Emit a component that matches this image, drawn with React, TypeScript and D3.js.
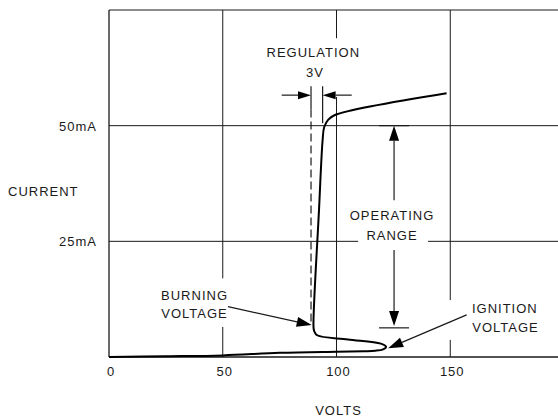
import { useEffect, useRef } from "react";
import * as d3 from "d3";

// volts / milliamps
const xTicks = [0, 50, 100, 150];
const yTicks = [25, 50];

// tube characteristic: along the baseline, round the ignition tip, back to the burning corner, then up
const curveVolts = [0, 25, 50, 75, 100, 112, 117, 120.5, 121.8, 119.5, 105, 91.5, 90.2, 89.9, 92.3, 93.9, 94.6, 96.4, 99.3, 148.4];
const curveMa = [0, 0.15, 0.35, 0.9, 1.15, 1.25, 1.35, 1.65, 2.2, 2.9, 3.8, 4.7, 5.6, 6.4, 31.7, 46.9, 49.7, 51.3, 52.3, 57.0];

// grid lines with the gaps the draughtsman left round the lettering
const vGridVolts = [0, 50, 100, 150];
const vGridSegs: [number, number][][] = [
  [[0, 75]],
  [[0, 6.5], [17, 75]],
  [[0, 56.2], [68.9, 75]],
  [[0, 3.7], [12.3, 75]],
];
const hGridMa = [0, 25, 50, 75];
const hGridSegs: [number, number][][] = [
  [[0, 200]],
  [[0, 109.5], [140.2, 200]],
  [[0, 200]],
  [[0, 200]],
];

// annotations (data coordinates)
const labels = [
  { text: "REGULATION", v: 89.8, i: 65.9, anchor: "middle" },
  { text: "3V", v: 90.5, i: 61.6, anchor: "middle" },
  { text: "OPERATING", v: 124.4, i: 30.7, anchor: "middle" },
  { text: "RANGE", v: 124.4, i: 26.3, anchor: "middle" },
  { text: "BURNING", v: 37.6, i: 13.4, anchor: "middle" },
  { text: "VOLTAGE", v: 37.6, i: 9.5, anchor: "middle" },
  { text: "IGNITION", v: 174, i: 10.6, anchor: "middle" },
  { text: "VOLTAGE", v: 174.3, i: 6.3, anchor: "middle" },
];
// [fromV, fromI, tipV, tipI]
const arrows = [
  [75.9, 56.6, 88.8, 56.6],
  [106.7, 56.6, 93.9, 56.6],
  [125.3, 33.9, 125.3, 50],
  [125.3, 23.1, 125.3, 6.7],
  [52.3, 10.9, 89.1, 6.9],
  [157.2, 9.1, 122.7, 1.9],
];
const rangeBars = [50, 6.3]; // mA, at the operating range arrows
const rangeVolts = 125.3;
const dashedVolts = 88.8;
const dashedMa: [number, number] = [7, 53.5];
const regTicks = [
  { v: 88.8, from: 53.5, to: 58.5 },
  { v: 93.9, from: 50.5, to: 58.5 },
];

const W = 558;
const H = 419;
const FONT = "'Liberation Sans', Arial, sans-serif";
const INK = "#1a1a1a";

export default function App() {
  const svgRef = useRef<SVGSVGElement | null>(null);

  useEffect(() => {
    const svg = d3.select(svgRef.current);
    svg.selectAll("*").remove();

    const x = d3.scaleLinear().domain([0, 200]).range([109, 564]);
    const y = d3.scaleLinear().domain([0, 75]).range([357, 10]);

    svg.append("rect").attr("width", W).attr("height", H).attr("fill", "#fff");

    const g = svg.append("g");

    // grid
    vGridVolts.forEach((v, k) => {
      vGridSegs[k].forEach(([a, b]) => {
        g.append("line")
          .attr("x1", x(v)).attr("x2", x(v))
          .attr("y1", y(a)).attr("y2", y(b))
          .attr("stroke", INK).attr("stroke-width", v === 0 ? 1.3 : 1);
      });
    });
    hGridMa.forEach((m, k) => {
      hGridSegs[k].forEach(([a, b]) => {
        g.append("line")
          .attr("x1", x(a)).attr("x2", x(b))
          .attr("y1", y(m)).attr("y2", y(m))
          .attr("stroke", INK).attr("stroke-width", m === 0 ? 1.6 : 1);
      });
    });

    const txt = (s: string, px: number, py: number, anchor: string) =>
      g.append("text")
        .attr("x", px).attr("y", py + 4.6)
        .attr("text-anchor", anchor)
        .attr("font-family", FONT).attr("font-size", 13)
        .attr("letter-spacing", 1)
        .attr("fill", INK)
        .text(s);

    // axis labels
    xTicks.forEach((v) => txt(String(v), x(v) + 2, 371, "middle"));
    yTicks.forEach((m) => txt(`${m}mA`, 97, y(m) + 0.5, "end"));
    txt("CURRENT", 8, 191, "start");
    txt("VOLTS", x(100) + 2, 410, "middle");

    // dashed burning-voltage line and regulation ticks
    g.append("line")
      .attr("x1", x(dashedVolts)).attr("x2", x(dashedVolts))
      .attr("y1", y(dashedMa[1])).attr("y2", y(dashedMa[0]))
      .attr("stroke", INK).attr("stroke-width", 1.2)
      .attr("stroke-dasharray", "8,4");
    regTicks.forEach((t) => {
      g.append("line")
        .attr("x1", x(t.v)).attr("x2", x(t.v))
        .attr("y1", y(t.from)).attr("y2", y(t.to))
        .attr("stroke", INK).attr("stroke-width", 1.2);
    });

    // characteristic curve
    const pts = curveVolts.map((v, k) => [v, curveMa[k]] as [number, number]);
    const line = d3.line<[number, number]>()
      .x((d) => x(d[0]))
      .y((d) => y(d[1]))
      .curve(d3.curveCatmullRom.alpha(0.5));
    g.append("path")
      .datum(pts)
      .attr("d", line)
      .attr("fill", "none")
      .attr("stroke", "#000")
      .attr("stroke-width", 2)
      .attr("stroke-linejoin", "round");

    // operating range bars
    rangeBars.forEach((m) => {
      g.append("line")
        .attr("x1", x(rangeVolts) - 15).attr("x2", x(rangeVolts) + 15)
        .attr("y1", y(m)).attr("y2", y(m))
        .attr("stroke", INK).attr("stroke-width", 1.2);
    });

    // arrows
    arrows.forEach(([v0, i0, v1, i1], k) => {
      const x0 = x(v0), y0 = y(i0), x1 = x(v1), y1 = y(i1);
      const ang = Math.atan2(y1 - y0, x1 - x0);
      const len = k < 2 ? 13 : 15;
      const hw = k < 2 ? 4 : 5;
      const bx = x1 - len * Math.cos(ang);
      const by = y1 - len * Math.sin(ang);
      g.append("line")
        .attr("x1", x0).attr("y1", y0).attr("x2", bx).attr("y2", by)
        .attr("stroke", INK).attr("stroke-width", 1.2);
      const nx = -Math.sin(ang) * hw, ny = Math.cos(ang) * hw;
      g.append("path")
        .attr("d", `M${x1},${y1}L${bx + nx},${by + ny}L${bx - nx},${by - ny}Z`)
        .attr("fill", "#000");
    });

    labels.forEach((l) => txt(l.text, x(l.v), y(l.i), l.anchor));
  }, []);

  return (
    <svg
      ref={svgRef}
      width={W}
      height={H}
      style={{ position: "absolute", left: 0, top: 0, display: "block" }}
    />
  );
}
